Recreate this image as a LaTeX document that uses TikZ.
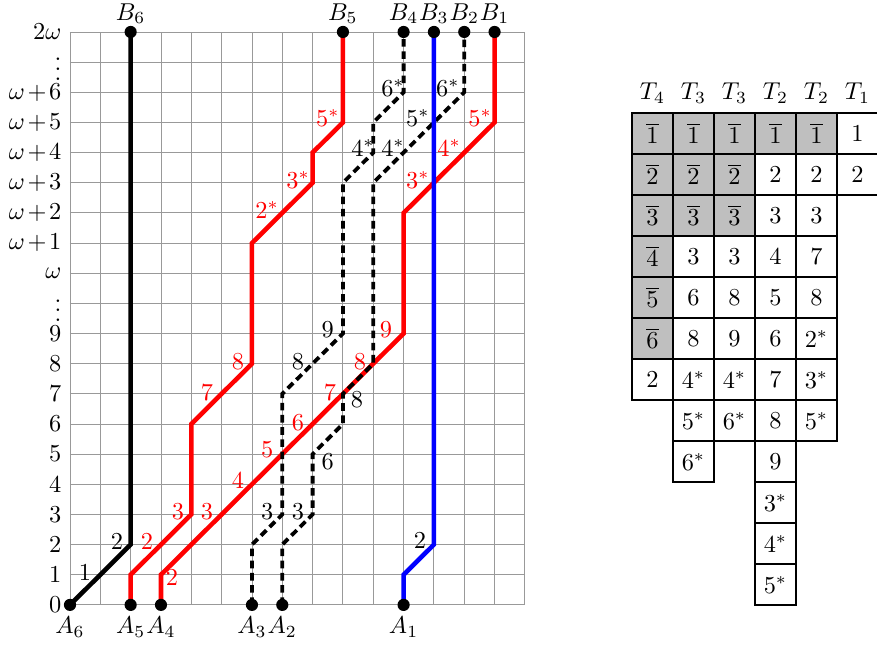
\documentclass[tikz,border=0pt]{standalone}
\begin{document}
\begin{tikzpicture}[
    x=0.7cm, y=0.696cm,
    every node/.style={scale=1.6},
    gridline/.style={gray!80, line width=0.6pt},
    strand/.style={line width=3pt},
    dstrand/.style={line width=2.5pt, dash pattern=on 5pt off 3pt},
    dot/.style={circle, fill=black, inner sep=0pt, minimum size=5pt},
    ylab/.style={anchor=east},
    rlab/.style={text=red},
    cell/.style={
        draw,
        fill=white,
        line width=1.5pt,
        minimum width=0.5916cm,
        minimum height=0.5916cm,
        inner sep=0pt,
        outer sep=0pt
    },
    shade/.style={cell, fill=gray!50}
]
\useasboundingbox (-2.308,-1.326) rectangle (26.61,20.06);

% --- tableau placement (grid units) ---
\def\tx{18.53}  % left edge
\def\ty{16.31}  % top edge
\def\cw{1.352}  % cell width
\def\ch{1.36}   % cell height

% ---- grid and row labels ----
\draw[gridline] (0,0) grid[step=1] (15,19);
\foreach \j in {0,...,9}
    \node[ylab] (y\j) at (0,\j) {$\j$};
\node[ylab] (y10) at (0,10) {$\vdots$};
\node[ylab] (y11) at (0,11) {$\omega$};
\node[ylab] (y12) at (0,12) {$\omega\mkern2mu{+}\mkern2mu1$};
\node[ylab] (y13) at (0,13) {$\omega\mkern2mu{+}\mkern2mu2$};
\node[ylab] (y14) at (0,14) {$\omega\mkern2mu{+}\mkern2mu3$};
\node[ylab] (y15) at (0,15) {$\omega\mkern2mu{+}\mkern2mu4$};
\node[ylab] (y16) at (0,16) {$\omega\mkern2mu{+}\mkern2mu5$};
\node[ylab] (y17) at (0,17) {$\omega\mkern2mu{+}\mkern2mu6$};
\node[ylab] (y18) at (0,18) {$\vdots$};
\node[ylab] (y19) at (0,19) {$2\omega$};

% ---- end points ----
\coordinate (A6) at (0,0);
\coordinate (A5) at (2,0);
\coordinate (A4) at (3,0);
\coordinate (A3) at (6,0);
\coordinate (A2) at (7,0);
\coordinate (A1) at (11,0);
\coordinate (B6) at (2,19);
\coordinate (B5) at (9,19);
\coordinate (B4) at (11,19);
\coordinate (B3) at (12,19);
\coordinate (B2) at (13,19);
\coordinate (B1) at (14,19);

% ---- strands ----
\draw[strand, red] (A5) -- ++(0,1) -- ++(2,2) -- ++(0,3) -- ++(2,2)
    -- ++(0,4) -- ++(2,2) -- ++(0,1) -- ++(1,1) -- (B5);
\draw[strand, red] (A4) -- ++(0,1) -- ++(8,8) -- ++(0,4) -- ++(3,3) -- (B1);
\draw[strand] (A6) -- ++(2,2) -- (B6);
\draw[dstrand] (A3) -- ++(0,2) -- ++(1,1) -- ++(0,4) -- ++(2,2) -- ++(0,5)
    -- ++(1,1) -- ++(0,1) -- ++(1,1) -- (B4);
\draw[dstrand] (A2) -- ++(0,2) -- ++(1,1) -- ++(0,2) -- ++(1,1) -- ++(0,1)
    -- ++(1,1) -- ++(0,6) -- ++(3,3) -- (B2);
\draw[strand, blue] (A1) -- ++(0,1) -- ++(1,1) -- (B3);

% ---- dots and their names ----
\node[dot] (a6) at (A6) {};
\node[dot] (a5) at (A5) {};
\node[dot] (a4) at (A4) {};
\node[dot] (a3) at (A3) {};
\node[dot] (a2) at (A2) {};
\node[dot] (a1) at (A1) {};
\node[dot] (b6) at (B6) {};
\node[dot] (b5) at (B5) {};
\node[dot] (b4) at (B4) {};
\node[dot] (b3) at (B3) {};
\node[dot] (b2) at (B2) {};
\node[dot] (b1) at (B1) {};

\node (la6) at (0,-0.74) {$A_6$};
\node (la5) at (2,-0.74) {$A_5$};
\node (la4) at (3,-0.74) {$A_4$};
\node (la3) at (6,-0.74) {$A_3$};
\node (la2) at (7,-0.74) {$A_2$};
\node (la1) at (11,-0.74) {$A_1$};
\node (lb6) at (2,19.61) {$B_6$};
\node (lb5) at (9,19.61) {$B_5$};
\node (lb4) at (11,19.61) {$B_4$};
\node (lb3) at (12,19.61) {$B_3$};
\node (lb2) at (13,19.61) {$B_2$};
\node (lb1) at (14,19.61) {$B_1$};

% ---- step labels ----
\node (k1) at (0.49,1.09) {1};
\node (k2) at (1.55,2.09) {2};

\node[rlab] (p2) at (2.54,2.09) {2};
\node[rlab] (p3) at (3.56,3.08) {3};
\node[rlab] (p7) at (4.52,7.03) {7};
\node[rlab] (p8) at (5.54,8.06) {8};
\node[rlab] (p2s) at (6.5,13.1) {$2^*$};
\node[rlab] (p3s) at (7.52,14.1) {$3^*$};
\node[rlab] (p5s) at (8.5,16.15) {$5^*$};

\node[rlab] (q2) at (3.36,0.9) {2};
\node[rlab] (q3) at (4.52,3.08) {3};
\node[rlab] (q4) at (5.54,4.15) {4};
\node[rlab] (q5) at (6.5,5.14) {5};
\node[rlab] (q6) at (7.52,6.04) {6};
\node[rlab] (q7) at (8.57,7.03) {7};
\node[rlab] (q8) at (9.56,8.06) {8};
\node[rlab] (q9) at (10.42,9.12) {9};
\node[rlab] (q3s) at (11.47,14.1) {$3^*$};
\node[rlab] (q4s) at (12.5,15.16) {$4^*$};
\node[rlab] (q5s) at (13.52,16.15) {$5^*$};

\node (u2) at (11.54,2.15) {2};

\node (s3) at (6.5,3.08) {3};
\node (s8) at (7.52,8.06) {8};
\node (s9) at (8.5,9.12) {9};
\node (s4s) at (9.66,15.16) {$4^*$};
\node (s6s) at (10.65,17.15) {$6^*$};

\node (t3) at (7.52,3.08) {3};
\node (t6) at (8.5,4.74) {6};
\node (t8) at (9.46,6.8) {8};
\node (t4s) at (10.65,15.16) {$4^*$};
\node (t5s) at (11.47,16.15) {$5^*$};
\node (t6s) at (12.46,17.15) {$6^*$};

% ---- tableau headers ----
\node (h1) at ({\tx+0.5*\cw},{\ty+0.66}) {$T_4$};
\node (h2) at ({\tx+1.5*\cw},{\ty+0.66}) {$T_3$};
\node (h3) at ({\tx+2.5*\cw},{\ty+0.66}) {$T_3$};
\node (h4) at ({\tx+3.5*\cw},{\ty+0.66}) {$T_2$};
\node (h5) at ({\tx+4.5*\cw},{\ty+0.66}) {$T_2$};
\node (h6) at ({\tx+5.5*\cw},{\ty+0.66}) {$T_1$};

% ---- tableau column 1 ----
\foreach \v [count=\r] in {1,2,3,4,5,6}
    \node[shade] (c1-\r) at ({\tx+0.5*\cw},{\ty-(\r-0.5)*\ch}) {$\overline{\v}$};
\node[cell] (c1-7) at ({\tx+0.5*\cw},{\ty-6.5*\ch}) {$2$};

% ---- tableau column 2 ----
\foreach \v [count=\r] in {1,2,3}
    \node[shade] (c2-\r) at ({\tx+1.5*\cw},{\ty-(\r-0.5)*\ch}) {$\overline{\v}$};
\foreach \v [count=\r from 4] in {3,6,8,4^*,5^*,6^*}
    \node[cell] (c2-\r) at ({\tx+1.5*\cw},{\ty-(\r-0.5)*\ch}) {$\v$};

% ---- tableau column 3 ----
\foreach \v [count=\r] in {1,2,3}
    \node[shade] (c3-\r) at ({\tx+2.5*\cw},{\ty-(\r-0.5)*\ch}) {$\overline{\v}$};
\foreach \v [count=\r from 4] in {3,8,9,4^*,6^*}
    \node[cell] (c3-\r) at ({\tx+2.5*\cw},{\ty-(\r-0.5)*\ch}) {$\v$};

% ---- tableau column 4 ----
\node[shade] (c4-1) at ({\tx+3.5*\cw},{\ty-0.5*\ch}) {$\overline{1}$};
\foreach \v [count=\r from 2] in {2,3,4,5,6,7,8,9,3^*,4^*,5^*}
    \node[cell] (c4-\r) at ({\tx+3.5*\cw},{\ty-(\r-0.5)*\ch}) {$\v$};

% ---- tableau column 5 ----
\node[shade] (c5-1) at ({\tx+4.5*\cw},{\ty-0.5*\ch}) {$\overline{1}$};
\foreach \v [count=\r from 2] in {2,3,7,8,2^*,3^*,5^*}
    \node[cell] (c5-\r) at ({\tx+4.5*\cw},{\ty-(\r-0.5)*\ch}) {$\v$};

% ---- tableau column 6 ----
\node[cell] (c6-1) at ({\tx+5.5*\cw},{\ty-0.5*\ch}) {$1$};
\node[cell] (c6-2) at ({\tx+5.5*\cw},{\ty-1.5*\ch}) {$2$};

\end{tikzpicture}
\end{document}
